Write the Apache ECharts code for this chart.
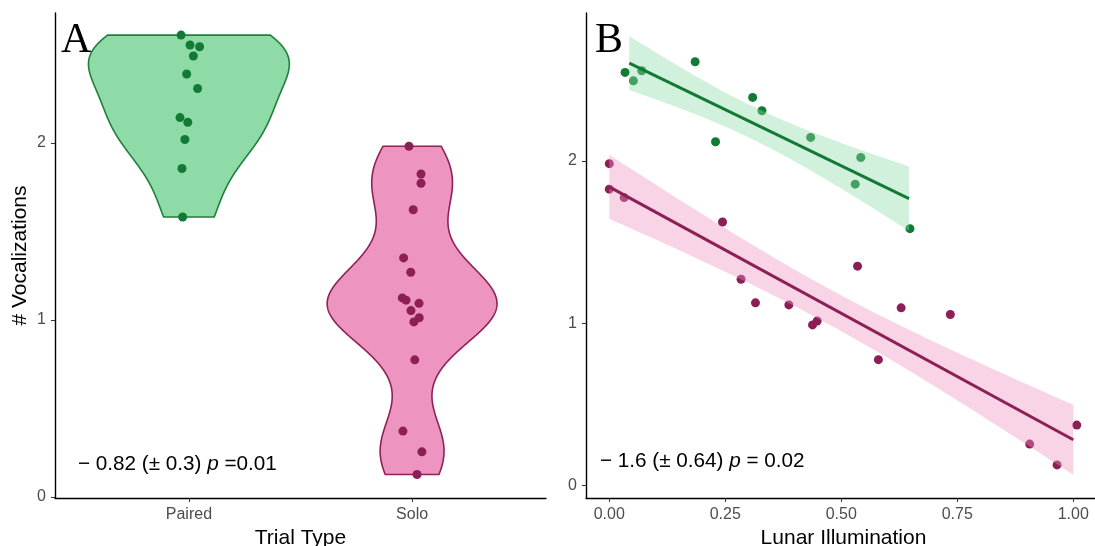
<!DOCTYPE html>
<html><head><meta charset="utf-8">
<script src="https://cdn.jsdelivr.net/npm/echarts@6/dist/echarts.min.js"></script>
<style>html,body{margin:0;padding:0;background:#fff}#c{width:1095px;height:546px}</style>
</head><body><div id="c"></div>
<script>
// ---- data ----
const trialTypes = ['Paired', 'Solo'];
// vocalizations per trial
const pairedVocal = [2.61, 2.554, 2.544, 2.492, 2.39, 2.308, 2.144, 2.117, 2.02, 1.856, 1.582];
const soloVocal = [1.982, 1.825, 1.773, 1.623, 1.351, 1.27, 1.125, 1.112, 1.094, 1.053, 1.013, 0.989, 0.775, 0.372, 0.255, 0.127];
// horizontal jitter of points in panel A (category units)
const pairedJitter = [-0.035, 0.005, 0.048, 0.020, -0.010, 0.039, -0.040, -0.005, -0.018, -0.031, -0.028];
const soloJitter = [-0.014, 0.040, 0.040, 0.005, -0.038, -0.006, -0.044, -0.027, 0.031, -0.005, 0.032, 0.008, 0.012, -0.041, 0.044, 0.022];
// lunar illumination for the same trials
const pairedLunar = [0.185, 0.070, 0.034, 0.052, 0.309, 0.329, 0.434, 0.229, 0.542, 0.530, 0.648];
const soloLunar = [0.0, 0.0, 0.032, 0.244, 0.535, 0.284, 0.315, 0.387, 0.629, 0.735, 0.448, 0.438, 0.580, 1.0075, 0.906, 0.965];
// x range of the smooth lines
const pairedFitRange = [0.043, 0.646];
const soloFitRange = [0.0, 1.0];
// tick labels
const yTicks = [0, 1, 2];
const xTicksB = [0, 0.25, 0.5, 0.75, 1];
const annotA = ['\u2212 0.82 (\u00b1 0.3) ', 'p', ' =0.01'];
const annotB = ['\u2212 1.6 (\u00b1 0.64) ', 'p', ' = 0.02'];

// ---- colours ----
const GREEN_DARK = '#137a35', GREEN_FILL = '#8fdba7', GREEN_LINE = '#1f7f3b';
const PINK_DARK = '#8b1f56', PINK_FILL = '#ee94c0', PINK_LINE = '#8e2257';
const FONT = 'Liberation Sans, Arial, sans-serif';

// ---- stats helpers ----
function q7(s, p) { const n = s.length, h = (n - 1) * p, lo = Math.floor(h); return s[lo] + (h - lo) * (s[Math.min(lo + 1, n - 1)] - s[lo]); }
function bwNrd0(x) {
  const n = x.length, m = x.reduce((a, b) => a + b, 0) / n;
  const sd = Math.sqrt(x.reduce((a, b) => a + (b - m) * (b - m), 0) / (n - 1));
  const s = x.slice().sort((a, b) => a - b);
  const iqr = q7(s, 0.75) - q7(s, 0.25);
  let lo = Math.min(sd, iqr / 1.34); if (!lo) lo = sd || 1;
  return 0.9 * lo * Math.pow(n, -0.2);
}
function kde(x, npts) {
  const bw = bwNrd0(x), n = x.length;
  const mn = Math.min(...x), mx = Math.max(...x);
  const ys = [], ds = [];
  for (let k = 0; k < npts; k++) {
    const y = mn + (mx - mn) * k / (npts - 1);
    let s = 0; for (const v of x) { const z = (y - v) / bw; s += Math.exp(-0.5 * z * z); }
    ys.push(y); ds.push(s / (n * bw * Math.sqrt(2 * Math.PI)));
  }
  return { ys, ds };
}
function lmFit(xs, ys, range, tq) {
  const n = xs.length;
  const mx = xs.reduce((a, b) => a + b, 0) / n, my = ys.reduce((a, b) => a + b, 0) / n;
  let sxy = 0, sxx = 0;
  for (let i = 0; i < n; i++) { sxy += (xs[i] - mx) * (ys[i] - my); sxx += (xs[i] - mx) * (xs[i] - mx); }
  const b = sxy / sxx, a = my - b * mx;
  let rss = 0; for (let i = 0; i < n; i++) { const r = ys[i] - (a + b * xs[i]); rss += r * r; }
  const s = Math.sqrt(rss / (n - 2));
  const band = [];
  for (let k = 0; k < 80; k++) {
    const x = range[0] + (range[1] - range[0]) * k / 79;
    const f = a + b * x, se = s * Math.sqrt(1 / n + (x - mx) * (x - mx) / sxx);
    band.push([x, f - tq * se, f + tq * se]);
  }
  return { line: [[range[0], a + b * range[0]], [range[1], a + b * range[1]]], band };
}

// violins (ggplot: trim, scale = "area", width 0.9)
const dens = [kde(pairedVocal, 512), kde(soloVocal, 512)];
const maxD = Math.max(...dens[0].ds, ...dens[1].ds);
const violinStyle = [
  { fill: GREEN_FILL, stroke: GREEN_LINE },
  { fill: PINK_FILL, stroke: PINK_LINE }
];
// t quantiles (0.975) for df = n-2
const fits = [
  lmFit(pairedLunar, pairedVocal, pairedFitRange, 2.2622),
  lmFit(soloLunar, soloVocal, soloFitRange, 2.1448)
];

const chart = echarts.init(document.getElementById('c'));
const axisLine = { show: true, onZero: false, lineStyle: { color: '#000', width: 1.4 } };
const axisTick = (vals) => ({ show: true, length: 4, lineStyle: { color: '#333', width: 1 }, customValues: vals });
const axisLabel = (vals, fmt) => ({ color: '#4d4d4d', fontSize: 16, fontFamily: FONT, customValues: vals, formatter: fmt, margin: 9 });
const pt = (c) => ({ color: c, opacity: 1 });
const annRich = { n: { fontSize: 20.7, fontFamily: FONT, fill: '#000', color: '#000' }, i: { fontSize: 20.7, fontFamily: FONT, fontStyle: 'italic', fill: '#000', color: '#000' } };

chart.setOption({
  animation: false,
  backgroundColor: '#fff',
  grid: [
    { left: 55, top: 13, width: 491, height: 485, outerBoundsMode: 'none', containLabel: false },
    { left: 586, top: 13, width: 509, height: 485, outerBoundsMode: 'none', containLabel: false }
  ],
  xAxis: [
    { gridIndex: 0, type: 'value', min: 0.4, max: 2.6, splitLine: { show: false }, axisLine, axisTick: axisTick([1, 2]),
      axisLabel: axisLabel([1, 2], v => trialTypes[Math.round(v) - 1]),
      name: 'Trial Type', nameLocation: 'middle', nameGap: 30, nameTextStyle: { fontSize: 21, color: '#000', fontFamily: FONT } },
    { gridIndex: 1, type: 'value', min: -0.0502, max: 1.0468, splitLine: { show: false }, axisLine, axisTick: axisTick(xTicksB),
      axisLabel: axisLabel(xTicksB, v => v.toFixed(2)),
      name: 'Lunar Illumination', nameLocation: 'middle', nameGap: 30, nameTextStyle: { fontSize: 21, color: '#000', fontFamily: FONT, padding: [0, 0, 0, 6] } }
  ],
  yAxis: [
    { gridIndex: 0, type: 'value', min: -0.006, max: 2.735, splitLine: { show: false }, axisLine, axisTick: axisTick(yTicks),
      axisLabel: axisLabel(yTicks, v => String(v)),
      name: '# Vocalizations', nameLocation: 'middle', nameGap: 24, nameTextStyle: { fontSize: 21, color: '#000', fontFamily: FONT } },
    { gridIndex: 1, type: 'value', min: -0.077, max: 2.91, splitLine: { show: false }, axisLine, axisTick: axisTick(yTicks),
      axisLabel: axisLabel(yTicks, v => String(v)) }
  ],
  series: [
    { type: 'custom', xAxisIndex: 0, yAxisIndex: 0, z: 1, data: [[0], [1]],
      renderItem: (params, api) => {
        const g = api.value(0), d = dens[g], c = g + 1, pts = [];
        for (let k = 0; k < d.ys.length; k++) pts.push(api.coord([c - 0.45 * d.ds[k] / maxD, d.ys[k]]));
        for (let k = d.ys.length - 1; k >= 0; k--) pts.push(api.coord([c + 0.45 * d.ds[k] / maxD, d.ys[k]]));
        return { type: 'polygon', shape: { points: pts }, style: { fill: violinStyle[g].fill, stroke: violinStyle[g].stroke, lineWidth: 1.6 } };
      } },
    { type: 'scatter', xAxisIndex: 0, yAxisIndex: 0, z: 3, symbolSize: 9, itemStyle: pt(GREEN_DARK),
      data: pairedVocal.map((v, i) => [1 + pairedJitter[i], v]) },
    { type: 'scatter', xAxisIndex: 0, yAxisIndex: 0, z: 3, symbolSize: 9, itemStyle: pt(PINK_DARK),
      data: soloVocal.map((v, i) => [2 + soloJitter[i], v]) },
    { type: 'scatter', xAxisIndex: 1, yAxisIndex: 1, z: 2, symbolSize: 9, itemStyle: pt(GREEN_DARK),
      data: pairedVocal.map((v, i) => [pairedLunar[i], v]) },
    { type: 'scatter', xAxisIndex: 1, yAxisIndex: 1, z: 2, symbolSize: 9, itemStyle: pt(PINK_DARK),
      data: soloVocal.map((v, i) => [soloLunar[i], v]) },
    { type: 'custom', xAxisIndex: 1, yAxisIndex: 1, z: 3, data: [[0], [1]],
      renderItem: (params, api) => {
        const g = api.value(0), b = fits[g].band, pts = [];
        for (const r of b) pts.push(api.coord([r[0], r[2]]));
        for (let k = b.length - 1; k >= 0; k--) pts.push(api.coord([b[k][0], b[k][1]]));
        return { type: 'polygon', shape: { points: pts }, style: { fill: violinStyle[g].fill, opacity: 0.4 } };
      } },
    { type: 'line', xAxisIndex: 1, yAxisIndex: 1, z: 4, symbol: 'none', data: fits[0].line, lineStyle: { color: GREEN_DARK, width: 3 } },
    { type: 'line', xAxisIndex: 1, yAxisIndex: 1, z: 4, symbol: 'none', data: fits[1].line, lineStyle: { color: PINK_DARK, width: 3 } }
  ],
  graphic: [
    { type: 'text', x: 61, y: 20, z: 10, style: { text: 'A', font: '42px "Liberation Serif", serif', fill: '#000' } },
    { type: 'text', x: 595, y: 20, z: 10, style: { text: 'B', font: '42px "Liberation Serif", serif', fill: '#000' } },
    { type: 'text', x: 78, y: 464, z: 10, style: { text: '{n|' + annotA[0] + '}{i|' + annotA[1] + '}{n|' + annotA[2] + '}', verticalAlign: 'middle', rich: annRich } },
    { type: 'text', x: 600, y: 461, z: 10, style: { text: '{n|' + annotB[0] + '}{i|' + annotB[1] + '}{n|' + annotB[2] + '}', verticalAlign: 'middle', rich: annRich } }
  ]
});
</script></body></html>
